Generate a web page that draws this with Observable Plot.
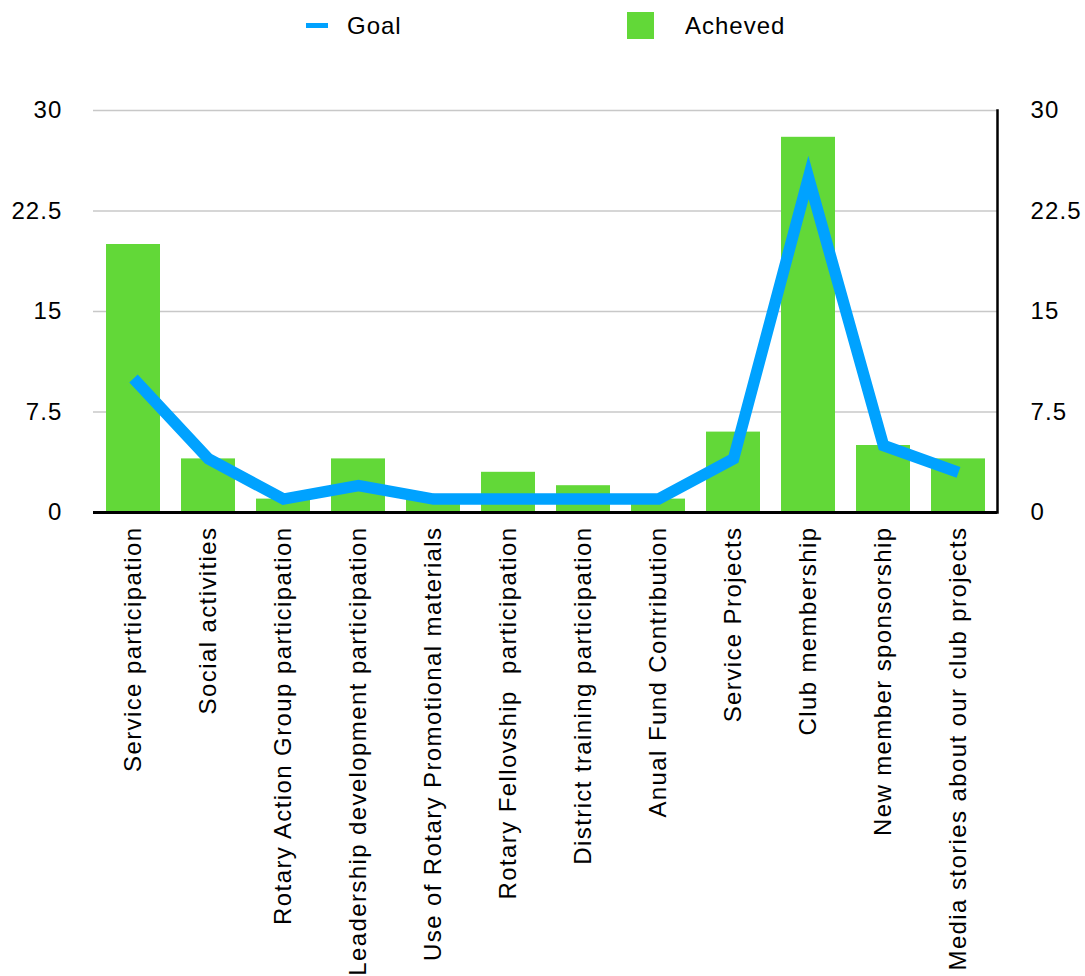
<!DOCTYPE html>
<html>
<head>
<meta charset="utf-8">
<script src="https://cdn.jsdelivr.net/npm/d3@7"></script>
<script src="https://cdn.jsdelivr.net/npm/@observablehq/plot@0.6"></script>
<style>
  body { margin: 0; background: #fff; font-family: "Liberation Sans", Arial, sans-serif; }
  #legend { position: relative; width: 1085px; height: 60px; font-size: 24px; letter-spacing: 1px; color: #000; }
  #legend .item { position: absolute; top: 12px; height: 27px; line-height: 27px; }
  #legend .line { position: absolute; left: 306px; top: 23px; width: 22px; height: 5px; background: #00A2FF; }
  #legend .sq { position: absolute; left: 627px; top: 12px; width: 27px; height: 27px; background: #62D838; }
  #chart svg text { letter-spacing: 1.1px; }
  #chart svg g[aria-label="x-axis tick label"] text { letter-spacing: 1.4px; }
</style>
</head>
<body>
<div id="legend">
  <div class="line"></div>
  <div class="item" style="left:347px">Goal</div>
  <div class="sq"></div>
  <div class="item" style="left:685px">Acheved</div>
</div>
<div id="chart"></div>
<script>
const categories = [
  "Service participation",
  "Social activities",
  "Rotary Action Group participation",
  "Leadership development participation",
  "Use of Rotary Promotional materials",
  "Rotary Fellovship  participation",
  "District training participation",
  "Anual Fund Contribution",
  "Service Projects",
  "Club membership",
  "New member sponsorship",
  "Media stories about our club projects"
];
const achieved = [20, 4, 1, 4, 1, 3, 2, 1, 6, 28, 5, 4];
const goal = [10, 4, 1, 2, 1, 1, 1, 1, 4, 25, 5, 3];
const yTicks = [0, 7.5, 15, 22.5, 30];

const data = categories.map((c, i) => ({category: c, achieved: achieved[i], goal: goal[i]}));

const chart = Plot.plot({
  width: 1085,
  height: 916,
  marginTop: 50,
  marginBottom: 464,
  marginLeft: 93,
  marginRight: 88,
  style: {fontFamily: "Liberation Sans, Arial, sans-serif", fontSize: "24px", color: "#000", background: "#fff", overflow: "visible"},
  x: {domain: categories, paddingInner: 0.28, paddingOuter: 0.14, align: 0.5},
  y: {domain: [0, 30]},
  marks: [
    Plot.gridY(yTicks.filter(d => d > 0), {stroke: "#c8c8c8", strokeOpacity: 1, strokeWidth: 1.5}),
    Plot.barY(data, {x: "category", y: "achieved", fill: "#62D838"}),
    Plot.line(data, {x: "category", y: "goal", stroke: "#00A2FF", strokeWidth: 11.5, strokeLinejoin: "miter", strokeMiterlimit: 10, strokeLinecap: "butt"}),
    Plot.ruleY([0], {stroke: "#000", strokeWidth: 3}),
    Plot.frame({anchor: "right", stroke: "#000", strokeWidth: 2.5}),
    Plot.axisX({tickRotate: -90, tickSize: 0, tickPadding: 14, fontSize: 24, label: null, fill: "#000"}),
    Plot.axisY({anchor: "left", ticks: yTicks, tickFormat: d => String(d), tickSize: 0, tickPadding: 31, fontSize: 24, label: null, fill: "#000"}),
    Plot.axisY({anchor: "right", ticks: yTicks, tickFormat: d => String(d), tickSize: 0, tickPadding: 33, fontSize: 24, label: null, fill: "#000"})
  ]
});
document.getElementById("chart").appendChild(chart);
</script>
</body>
</html>
